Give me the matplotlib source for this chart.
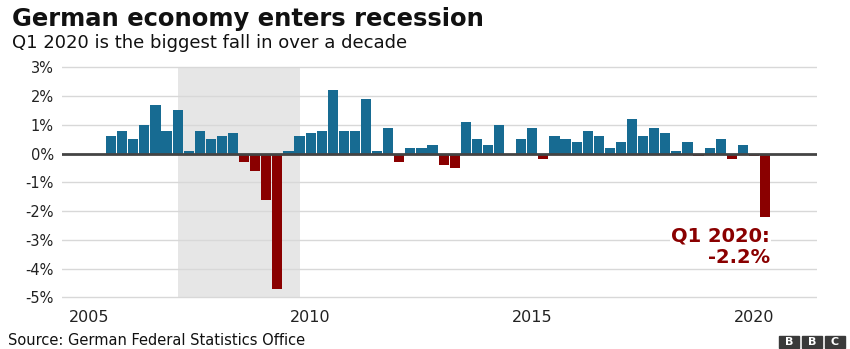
import matplotlib
matplotlib.use("Agg")
import matplotlib.pyplot as plt
import pandas as pd
from matplotlib.patches import Rectangle

# Quarterly GDP growth, Germany, % change on previous quarter
quarters = pd.period_range("2005Q2", "2020Q1", freq="Q")
growth = [0.6, 0.8, 0.5, 1.0, 1.7, 0.8, 1.5, 0.1, 0.8, 0.5,
          0.6, 0.7, -0.3, -0.6, -1.6, -4.7, 0.1, 0.6, 0.7, 0.8,
          2.2, 0.8, 0.8, 1.9, 0.1, 0.9, -0.3, 0.2, 0.2, 0.3,
          -0.4, -0.5, 1.1, 0.5, 0.3, 1.0, 0.0, 0.5, 0.9, -0.2,
          0.6, 0.5, 0.4, 0.8, 0.6, 0.2, 0.4, 1.2, 0.6, 0.9,
          0.7, 0.1, 0.4, -0.1, 0.2, 0.5, -0.2, 0.3, -0.1, -2.2]
year_ticks = [2005, 2010, 2015, 2020]
pct_ticks = [3, 2, 1, 0, -1, -2, -3, -4, -5]
pct_labels = ["3%", "2%", "1%", "0%", "-1%", "-2%", "-3%", "-4%", "-5%"]
crisis_start, crisis_end = 2007.0, 2009.77

blue = "#176b92"
red = "#8a0000"

plt.rcParams["font.family"] = ["DejaVu Sans"]

fig = plt.figure(figsize=(8.5, 3.49), dpi=100)
ax = fig.add_axes([0.0729, 0.140, 0.8883, 0.6753])

# bar centred on quarter end, in fractional years
x = [q.year + q.quarter * 0.25 for q in quarters]
colors = [blue if v >= 0 else red for v in growth]

ax.fill_between([crisis_start, crisis_end], -5, 3, color="#e6e6e6", lw=0, zorder=0)
ax.bar(x, growth, width=0.23, color=colors, zorder=3)

for t in pct_ticks:
    if t != 0:
        ax.axhline(t, color="#d8d8d8", lw=1, zorder=1)
ax.axhline(0, color="#444444", lw=2, zorder=4)

ax.set_xlim(2004.391, 2021.422)
ax.set_ylim(-5.1, 3.1)
ax.set_xticks(year_ticks)
ax.set_xticklabels([str(y) for y in year_ticks], fontsize=11.5, color="#222222")
ax.set_yticks(pct_ticks)
ax.set_yticklabels(pct_labels, fontsize=10.5, color="#222222")
ax.tick_params(axis="both", length=0)
ax.tick_params(axis="x", pad=7)
ax.tick_params(axis="y", pad=6)
for s in ax.spines.values():
    s.set_visible(False)

ax.text(2020.36, -3.25, "Q1 2020:\n-2.2%", ha="right", va="center",
        fontsize=14, fontweight="bold", color=red, linespacing=1.15,
        bbox=dict(facecolor="white", edgecolor="none", pad=0.5), zorder=5)

fig.text(12 / 850, 1 - 26 / 349, "German economy enters recession",
         fontsize=17.5, fontweight="bold", color="#111111", va="baseline")
fig.text(12 / 850, 1 - 48 / 349, "Q1 2020 is the biggest fall in over a decade",
         fontsize=13, color="#111111", va="baseline")
fig.text(8 / 850, 1 - 345 / 349, "Source: German Federal Statistics Office",
         fontsize=10.5, color="#111111", va="baseline")

# BBC blocks
for i, letter in enumerate("BBC"):
    x0 = (779 + i * 23) / 850
    fig.patches.append(Rectangle((x0, 1 / 349), 20 / 850, 12 / 349,
                                 transform=fig.transFigure, color="#3a3a3a"))
    fig.text(x0 + 10 / 850, 7 / 349, letter, ha="center", va="center",
             fontsize=8, fontweight="bold", color="white")

fig.savefig("out.png", dpi=100)
